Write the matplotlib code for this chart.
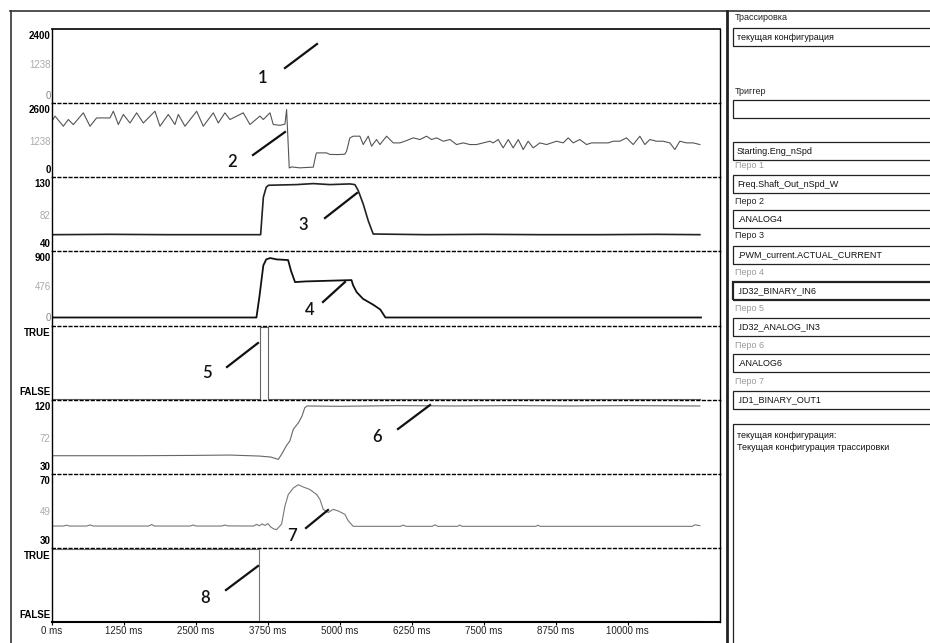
import matplotlib
matplotlib.use("Agg")
import matplotlib.pyplot as plt
from matplotlib.lines import Line2D
from matplotlib.patches import Rectangle

plt.rcParams["font.family"] = ["Liberation Sans", "DejaVu Sans"]

W, H = 930, 643

# ── data ─────────────────────────────────────────────────
t_end = 11600  # ms shown on the x axis

# pen 1 (Freq.Shaft_Out_nSpd_W)
t2 = [0, 52, 197, 284, 370, 544, 660, 775, 1007, 1065, 1152, 1239, 1354, 1470,
      1586, 1788, 1875, 2020, 2135, 2193, 2309, 2512, 2627, 2801, 2888, 3003,
      3090, 3322, 3437, 3611, 3669, 3785, 3842, 3958, 4045, 4074, 4120,
      4161, 4300, 4450, 4537, 4583, 4595, 4768, 4826, 4971, 5086, 5115, 5173,
      5231, 5347, 5405, 5492, 5549, 5636, 5694, 5810, 5926, 6041, 6128, 6273,
      6389, 6504, 6591, 6678, 6794, 6910, 7025, 7141, 7257, 7372, 7488, 7604,
      7662, 7748, 7835, 7922, 8009, 8096, 8183, 8269, 8356, 8472, 8588, 8761,
      8877, 8964, 9051, 9166, 9282, 9369, 9514, 9659, 9745, 9861, 9977, 10092,
      10208, 10295, 10382, 10497, 10613, 10729, 10816, 10902, 11018, 11134, 11250]
v2 = [2080, 2300, 1860, 2150, 1930, 2440, 1860, 2220, 2220, 2510, 1935, 2370, 2000, 2440,
      2000, 2510, 1860, 2370, 1935, 2370, 1860, 2510, 1860, 2440, 2000, 2440,
      2150, 2440, 1935, 2300, 2150, 2440, 1935, 1900, 1950, 2585, 56,
      100, 60, 80, 90, 635, 707, 707, 640, 635, 650, 780, 1355,
      1430, 1430, 1068, 1430, 996, 1285, 1068, 1429, 1140, 1140, 1212, 1357,
      1285, 1429, 1285, 1357, 1212, 1285, 1068, 1140, 1068, 1068, 1140, 1212,
      1140, 1285, 924, 1285, 924, 1285, 852, 1212, 924, 1140, 1068, 1212,
      1140, 1357, 1140, 1285, 1068, 1140, 1140, 1140, 1212, 1212, 1357, 1068,
      1429, 1068, 1285, 1212, 1212, 1140, 852, 1212, 1140, 1140, 1068]

# pen 2 (.ANALOG4)
t3 = [0, 1000, 2000, 3000, 3623, 3670, 3720, 3760, 4000, 4248, 4537, 4826, 5173,
      5260, 5318, 5404, 5491, 5578, 6500, 7500, 8500, 9500, 10500, 11250]
v3 = [53, 53.5, 53, 53, 53, 109, 124, 127, 127.5, 128, 129.5, 128, 129,
      128, 119, 99, 74, 54, 53, 53.5, 53, 53, 53.5, 53]

# pen 3 (.PWM_current.ACTUAL_CURRENT)
t4 = [0, 3550, 3600, 3670, 3720, 3790, 3900, 4000, 4100, 4150, 4220, 4400, 4800,
      5200, 5230, 5290, 5400, 5580, 5700, 5790, 11270]
v4 = [0, 0, 300, 780, 870, 890, 870, 865, 860, 700, 530, 540, 550,
      560, 480, 380, 280, 190, 120, 0, 0]

# pen 4 (.ID32_BINARY_IN6), 1 = TRUE
t5 = [0, 3610, 3755, 11250]
s5 = [0, 1, 0, 0]

# pen 5 (.ID32_ANALOG_IN3)
t6 = [0, 1500, 2500, 3090, 3600, 3800, 3930, 3990, 4070, 4130, 4190, 4280, 4340,
      4390, 4430, 5000, 6000, 7000, 8000, 9000, 10000, 11250]
v6 = [45, 45, 45.5, 46, 44.5, 43, 39.5, 47.5, 60, 67, 84.5, 94.5, 104,
      117, 119.5, 119, 120, 119.5, 120, 119.5, 120, 119.5]

# pen 6 (.ANALOG6)
t7 = [0, 200, 255, 300, 600, 660, 720, 1680, 1730, 1780, 2400, 2450, 2500, 2950,
      3000, 3050, 3500, 3550, 3600, 3650, 3700, 3750, 3800, 3850, 3900, 3987,
      4045, 4103, 4190, 4277, 4363, 4479, 4595, 4653, 4710, 4797, 4884, 4971,
      5086, 5144, 5231, 6050, 6100, 6150, 6600, 6650, 6700, 7040, 7080, 7120,
      8400, 8440, 8480, 11120, 11160, 11250]
v7 = [39.2, 39.2, 39.8, 39.2, 39.2, 39.9, 39.2, 39.2, 40.2, 39.2, 39.2, 39.9, 39.2, 39.2,
      39.9, 39.3, 39.2, 40.3, 39.4, 40.6, 39.6, 40.8, 38.5, 37.3, 36.8, 40.5,
      52.5, 60.2, 64.5, 66.7, 65.2, 63.5, 60.2, 56.9, 50.3, 48.2, 50.3, 49.2,
      47, 42.7, 39, 39, 39.8, 39, 39, 40, 39, 39, 39.8, 39,
      39, 39.7, 39, 39, 40, 39.5]

# pen 7 (.ID1_BINARY_OUT1), 1 = TRUE
t8 = [0, 3600, 11250]
s8 = [1, 0, 0]

# y axis scales: (low, mid, high) and label colours
ranges = [(0, 1238, 2400), (0, 1238, 2600), (40, 82, 130), (0, 476, 900),
          None, (30, 72, 120), (30, 49, 70), None]
label_cols = [("#888", "#aaa", "k"), ("k", "#aaa", "k"), ("k", "#aaa", "k"),
              ("#888", "#aaa", "k"), None, ("k", "#aaa", "k"), ("k", "#aaa", "k"), None]

xtick_vals = [0, 1250, 2500, 3750, 5000, 6250, 7500, 8750, 10000]

callout_labels = ["1", "2", "3", "4", "5", "6", "7", "8"]
callout_text_px = [(263, 78), (232, 162), (303, 225), (310, 310),
                   (207, 373), (377, 437), (292, 536), (205, 598)]
callout_line_px = [((285, 68), (317, 44)), ((253, 155), (285, 132)),
                   ((325, 218), (357, 193)), ((323, 302), (345, 282)),
                   ((227, 367), (258, 343)), ((398, 429), (430, 405)),
                   ((306, 528), (328, 510)), ((226, 590), (258, 566))]

# right panel: (text, y in px, kind)
side_items = [
    ("Трассировка", 17, "label"),
    ("текущая конфигурация", 37, "box"),
    ("Триггер", 92, "label"),
    ("", 109, "box"),
    ("Starting.Eng_nSpd", 151, "box"),
    ("Перо 1", 166, "grey"),
    ("Freq.Shaft_Out_nSpd_W", 184, "box"),
    ("Перо 2", 201, "label"),
    (".ANALOG4", 219, "box"),
    ("Перо 3", 236, "label"),
    (".PWM_current.ACTUAL_CURRENT", 255, "box"),
    ("Перо 4", 272, "grey"),
    (".ID32_BINARY_IN6", 291, "boxbold"),
    ("Перо 5", 309, "grey"),
    (".ID32_ANALOG_IN3", 327, "box"),
    ("Перо 6", 345, "grey"),
    (".ANALOG6", 363, "box"),
    ("Перо 7", 381, "grey"),
    (".ID1_BINARY_OUT1", 400, "box"),
]
info_lines = ["текущая конфигурация:", "Текущая конфигурация трассировки"]

# ── figure ───────────────────────────────────────────────
fig = plt.figure(figsize=(W / 100, H / 100), dpi=100)

def fx(px):
    return px / W

def fy(py):
    return 1 - py / H

left, right, top, bottom = 52, 720, 29, 622
ph = (bottom - top) / 8
axes = []
for i in range(8):
    ax = fig.add_axes([fx(left), fy(top + (i + 1) * ph), (right - left) / W, ph / H])
    ax.set_xlim(0, t_end)
    for s in ("left", "right"):
        ax.spines[s].set_linewidth(1.0)
    if i == 0:
        ax.spines["top"].set_linewidth(1.2)
    else:
        ax.spines["top"].set_linestyle((0, (2, 2)))
        ax.spines["top"].set_linewidth(1.0)
    if i < 7:
        ax.spines["bottom"].set_visible(False)
        ax.set_xticks([])
    else:
        ax.spines["bottom"].set_linewidth(1.5)
        ax.set_xticks(xtick_vals)
        ax.set_xticklabels([f"{v} ms" for v in xtick_vals], fontsize=7, color="#222")
        ax.tick_params(axis="x", length=2, pad=1)
    ax.tick_params(axis="y", length=0, pad=1)
    r = ranges[i]
    if r is not None:
        lo, mid, hi = r
        span = hi - lo
        ax.set_ylim(lo - span * 8 / 60, hi + span * 6 / 60)
        ax.set_yticks([lo, mid, hi])
        ax.set_yticklabels([str(lo), str(mid), str(hi)], fontsize=7)
        for lab, c in zip(ax.get_yticklabels(), label_cols[i]):
            lab.set_color(c)
            if c == "k":
                lab.set_fontweight("bold")
    else:
        ax.set_ylim(-0.015, 1.015)
        ax.set_yticks([0.1, 0.92])
        ax.set_yticklabels(["FALSE", "TRUE"], fontsize=7, fontweight="bold")
    axes.append(ax)

axes[1].plot(t2, v2, color="#555", lw=0.8, solid_joinstyle="round")
axes[2].plot(t3, v3, color="#222", lw=1.2)
axes[3].plot(t4, v4, color="#111", lw=1.3)
axes[4].step(t5, s5, where="post", color="#666", lw=0.8, clip_on=False)
axes[5].plot(t6, v6, color="#666", lw=0.8)
axes[6].plot(t7, v7, color="#777", lw=0.8)
axes[7].step(t8, s8, where="post", color="#777", lw=0.8, clip_on=False)

# callouts
for lab, (tx, ty), ((x1, y1), (x2, y2)) in zip(callout_labels, callout_text_px, callout_line_px):
    fig.text(fx(tx), fy(ty), lab, fontsize=12, family=["Lato", "DejaVu Sans"],
             fontweight="semibold", ha="center", va="center", color="#111")
    fig.add_artist(Line2D([fx(x1), fx(x2)], [fy(y1), fy(y2)], color="#111", lw=1.6))

# outer frame
fig.add_artist(Line2D([fx(10), fx(930)], [fy(11), fy(11)], color="#333", lw=1.2))
fig.add_artist(Line2D([fx(11), fx(11)], [fy(11), fy(643)], color="#333", lw=1.2))
fig.add_artist(Line2D([fx(727), fx(727)], [fy(11), fy(643)], color="#222", lw=2))

# right panel
for text, y, kind in side_items:
    if kind in ("label", "grey"):
        fig.text(fx(735), fy(y), text, fontsize=6.5, va="center",
                 color="#222" if kind == "label" else "#999")
    else:
        lw = 1.6 if kind == "boxbold" else 0.9
        fig.add_artist(Rectangle((fx(733), fy(y + 9)), fx(260), (18) / H,
                                 fill=False, ec="#222", lw=lw, transform=fig.transFigure))
        fig.text(fx(737), fy(y), text, fontsize=6.5, va="center", color="#111")

fig.add_artist(Rectangle((fx(733), fy(650)), fx(260), 226 / H,
                         fill=False, ec="#222", lw=0.9, transform=fig.transFigure))
for k, line in enumerate(info_lines):
    fig.text(fx(737), fy(436 + 12 * k), line, fontsize=6.5, va="center", color="#111")

fig.savefig("out.png", dpi=100)
